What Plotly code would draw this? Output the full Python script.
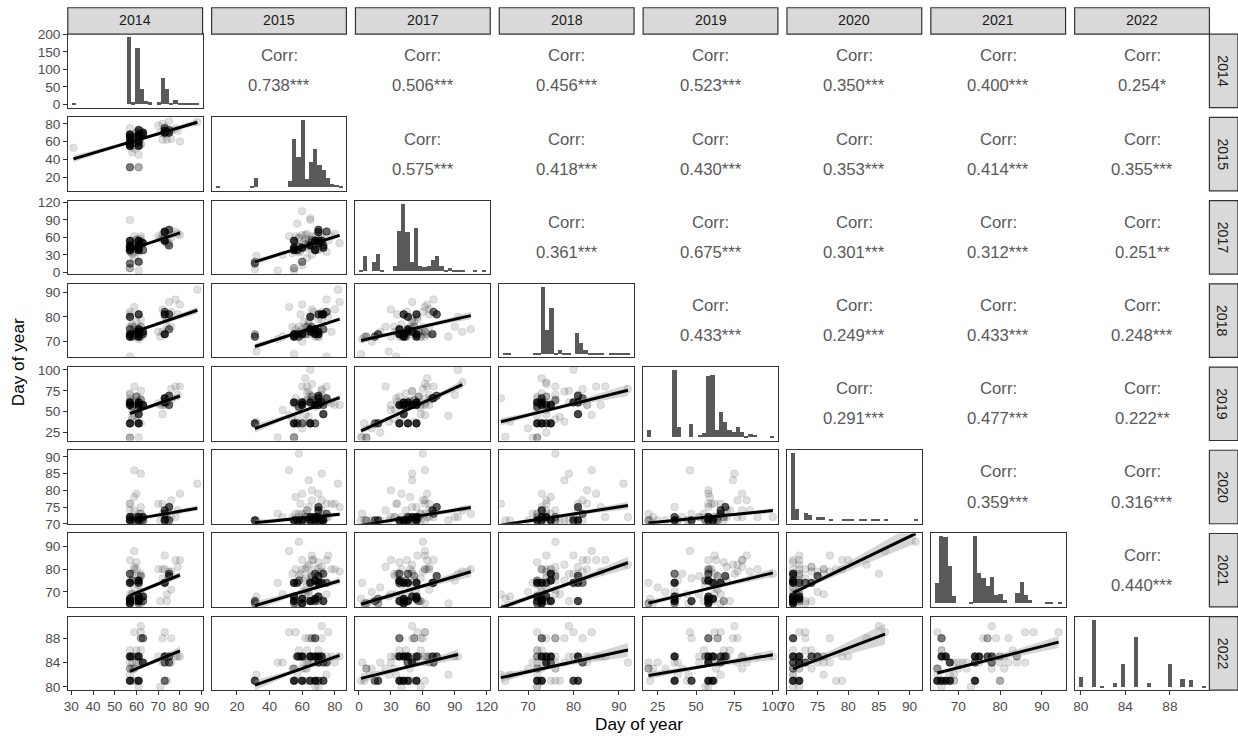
import numpy as np
import plotly.graph_objects as go

years = ["2014", "2015", "2017", "2018", "2019", "2020", "2021", "2022"]

# Day of year per site profile (None = not recorded that year)
doy_2014 = [57, 57, 61, 61, 57, 61, 57, 61, 57, 61,
            63, 57, 61, 57, 61, 73, 73, 75, 73, 75,
            73, 57, 61, 63, 57, 58, 60, 57, 59, 62,
            57, 61, 59, 62, 57, 70, 72, 74, 76, 78,
            80, 71, 73, 75, 79, 31, 88, None, None, None,
            None, None, None, None, None, None, None, 60, 62, 58,
            None, None, 59, 61, 58, 62, 60, 57, 73, 74,
            72, 58, 61, 57, 62, 59, 60, 76, None, None,
            None, None, None]
doy_2015 = [55, 60, 60, 65, 55, 68, 68, 55, 65, 73,
            70, 31, 31, 55, 60, 72, 70, 70, 75, 73,
            70, 68, 65, 68, 57, 48, 70, 65, 52, 72,
            75, 45, 63, 58, 67, 78, 80, 62, 72, 75,
            60, 70, 76, 83, 72, 53, 82, 31, 32, 58,
            60, 65, 55, 60, 66, 64, None, 66, 66, 58,
            None, None, 62, 58, 64, 56, 61, 63, 68, 70,
            62, 54, 68, 59, 64, 56, 70, 63, 57, 66,
            None, 62, None]
doy_2017 = [38, 42, 42, 46, 42, 38, 54, 54, 46, 42,
            50, 15, 18, 7, 18, 54, 69, 73, 70, 46,
            54, 38, 46, 38, 38, 30, 40, 90, 62, 50,
            35, 3, 25, 58, 45, 62, 66, 48, 60, 70,
            64, 58, 55, 50, 66, None, None, 5, 28, 60,
            105, 93, 2, 12, 62, 50, None, 56, 52, 44,
            None, 97, 48, 34, 40, 62, 52, 44, 62, 55,
            58, 33, 40, 36, 54, 48, 38, 66, 84, 30,
            20, 64, None]
doy_2018 = [73, 73, 73, 75, 72, 75, 73, 72, 80, 81,
            74, 72, 73, 72, 73, 81, 73, 81, 82, 75,
            73, 75, 74, 73, 73, 72, 73, 76, 84, 79,
            64, 71, 76, 72, 82, 74, 83, 76, 82, 87,
            85, 72, 80, 86, 81, None, 91, 72, 66, 76,
            75, 80, 65, 70, 74, 78, None, 74, 76, 72,
            None, 74, 73, 74, 77, 72, 78, 73, 73, 79,
            74, 76, 72, 81, 73, 75, 72, 76, 72, 83,
            74, 73, 92]
doy_2019 = [36, 58, 61, 36, 61, 58, 58, 36, 61, 47,
            58, 36, 36, 19, 36, 61, 66, 69, 66, 58,
            61, 36, 36, 58, 36, 52, 58, 70, 46, 75,
            66, 19, 80, 55, 63, 60, 58, 62, 77, 80,
            80, 58, 62, 58, 70, None, None, 36, 38, None,
            None, 100, 20, 30, 83, 74, 22, 68, 64, 56,
            None, 85, 63, 52, 44, 66, 38, 72, 58, 61,
            47, 41, 56, 62, 36, 59, 68, 64, 45, 58,
            25, 90, 77]
doy_2020 = [71, 71, 71, 71, 71, 71, 72, 71, 71, 71,
            72, 71, 71, 71, 71, 71, 74, 75, 73, 71,
            71, 71, 72, 71, 71, 72, 79, 72, 86, 85,
            76, 73, 74, 73, 71, 76, 76, 72, 77, 72,
            79, 71, 72, 75, 74, None, 82, 71, 71, 91,
            73, 72, 71, 71, 77, 83, 72, 72, 71, 71,
            None, 74, 71, 72, 71, 73, 71, 74, 71, 71,
            73, 72, 72, 76, 75, 78, 71, 72, 71, 80,
            71, 72, 72]
doy_2021 = [66, 65, 67, 66, 74, 75, 67, 68, 74, 66,
            68, 66, 65, 65, 67, 74, 74, 77, 74, 78,
            74, 78, 74, 66, 74, 69, 80, 75, 88, 78,
            69, 74, 81, 66, 84, 80, 80, 69, 79, 84,
            84, 66, 86, 79, 81, None, None, 65, 68, 92,
            80, 78, 67, 70, 86, 82, 65, 66, 77, 75,
            94, 79, 72, 77, 69, 65, 75, 66, 80, 66,
            76, 78, 73, 78, 70, 80, 83, 71, 65, 84,
            72, 80, 82]
doy_2022 = [81, 81, 85, 85, 81, 85, 81, 81, 81, 81,
            84, 81, 81, 83, 81, 85, 85, 85, 84, 84,
            81, 85, 85, 88, 85, 84, 81, 85, 89, 90,
            82, 84, 83, 86, 84, 85, 84, 81, 88, 85,
            85, 80, 89, 85, 85, None, None, 81, 82, None,
            None, 85, 81, 83, 84, 88, 83, 85, 88, 85,
            89, None, 83, 85, 81, 89, 84, 86, 81, 85,
            88, 83, 80, 85, 84, 81, 86, 84, 82, 85,
            84, 85, 84]
# number of sites sharing each profile
profile_sites = [30, 25, 25, 20, 15, 15, 15, 12, 10, 10,
                 10, 6, 3, 3, 5, 10, 8, 8, 6, 6,
                 5, 6, 8, 6, 8, 1, 1, 1, 1, 1,
                 1, 1, 1, 1, 1, 1, 1, 1, 1, 1,
                 1, 1, 1, 1, 1, 1, 1, 1, 1, 1,
                 1, 1, 1, 1, 1, 1, 1, 3, 3, 4,
                 1, 1, 1, 1, 1, 1, 1, 1, 1, 1,
                 1, 1, 1, 1, 1, 1, 1, 1, 1, 1,
                 1, 1, 1]

# Histogram counts, 30 bins whose first/last centres sit on the observed extremes
hist_2014 = [2, 0, 0, 0, 0, 0, 0, 0, 0, 0, 0, 0, 0, 191, 5, 161, 42, 8, 5, 0,
             5, 75, 44, 4, 11, 2, 2, 1, 1, 1]
hist_2015 = [1, 0, 0, 0, 0, 0, 0, 0, 2, 12, 0, 0, 0, 0, 0, 0, 0, 8, 61, 38,
             85, 10, 32, 48, 28, 22, 11, 4, 3, 1]
hist_2017 = [2, 22, 0, 13, 26, 2, 0, 0, 7, 60, 100, 58, 13, 65, 7, 6, 7, 16, 23, 7,
             2, 5, 2, 1, 1, 0, 0, 1, 0, 1]
hist_2018 = [1, 1, 0, 0, 0, 0, 0, 1, 1, 91, 33, 63, 2, 5, 1, 1, 0, 29, 15, 5,
             1, 1, 1, 1, 0, 1, 1, 1, 1, 1]
hist_2019 = [10, 0, 0, 0, 0, 0, 100, 15, 0, 0, 20, 0, 3, 6, 92, 93, 10, 38, 23, 10,
             8, 15, 8, 2, 5, 3, 0, 0, 0, 2]
hist_2020 = [100, 16, 0, 10, 8, 0, 5, 5, 0, 1, 0, 0, 1, 1, 1, 0, 1, 1, 0, 1,
             1, 0, 1, 0, 0, 0, 0, 0, 0, 1]
hist_2021 = [30, 100, 99, 56, 10, 0, 0, 0, 1, 100, 45, 37, 25, 39, 12, 13, 5, 0, 0, 15,
             31, 12, 5, 0, 0, 0, 2, 1, 0, 1]
hist_2022 = [15, 0, 0, 100, 0, 2, 0, 0, 6, 0, 34, 0, 0, 75, 0, 0, 6, 0, 0, 0,
             0, 34, 0, 0, 12, 0, 11, 0, 0, 2]
bin_first = [31.2, 8.2, 2.5, 65.0, 19.5, 71.0, 64.9, 80.0]
bin_last = [87.6, 83.4, 117.5, 92.0, 99.3, 91.0, 94.2, 91.0]

# Pairwise correlations (upper triangle, row by row)
corr_r = [0.738, 0.506, 0.456, 0.523, 0.350, 0.400, 0.254,
          0.575, 0.418, 0.430, 0.353, 0.414, 0.355,
          0.361, 0.675, 0.301, 0.312, 0.251,
          0.433, 0.249, 0.433, 0.248,
          0.291, 0.477, 0.222,
          0.359, 0.316,
          0.440]
corr_sig = ["***", "***", "***", "***", "***", "***", "*",
            "***", "***", "***", "***", "***", "***",
            "***", "***", "***", "***", "**",
            "***", "***", "***", "***",
            "***", "***", "**",
            "***", "***",
            "***"]

year_ticks = [[30, 40, 50, 60, 70, 80, 90], [20, 40, 60, 80], [0, 30, 60, 90, 120],
              [70, 80, 90], [25, 50, 75, 100], [70, 75, 80, 85, 90], [70, 80, 90],
              [80, 84, 88]]
count_ticks = [0, 50, 100, 150, 200]

# ---------------------------------------------------------------------------
# Layout positions are given in screen pixels of the finished page; the figure
# is drawn inside the page body (8px margin) and the page is shown slightly
# reduced, so screen pixels are mapped back into figure coordinates here.
W, H = 1238, 740
BODY_MARGIN = 8
KX, KY = W / (W + 2 * BODY_MARGIN), H / (H + 2 * BODY_MARGIN)
NV = len(years)
LEFT0, COL_PITCH, PANEL_W = 67.7, 143.86, 134.8
TOP0, ROW_PITCH, PANEL_H = 35.0, 83.14, 73.4
STRIP_TOP = 8.6
STRIP_RIGHT = 1238.0


def fx(px):
    return (px / KX - BODY_MARGIN) / W


def fy(py):
    return 1 - (py / KY - BODY_MARGIN) / H


def fs(size):
    return size / KX


FONT = "Liberation Sans, Arial, Helvetica, sans-serif"
TICK_FONT = dict(family=FONT, size=fs(13.5), color="#4D4D4D")
BORDER = "#333333"
ALPHA = 0.12
MAX_OPACITY = 0.82

doy = [doy_2014, doy_2015, doy_2017, doy_2018, doy_2019, doy_2020, doy_2021, doy_2022]
hists = [hist_2014, hist_2015, hist_2017, hist_2018, hist_2019, hist_2020, hist_2021, hist_2022]
vals = [np.array([np.nan if v is None else v for v in col], dtype=float) for col in doy]
wts = np.array(profile_sites, dtype=float)


def var_range(k):
    lo, hi = bin_first[k], bin_last[k]
    pad = 0.05 * (hi - lo)
    return [lo - pad, hi + pad]


def linear_fit(x, y, w):
    n = w.sum()
    xm = (w * x).sum() / n
    ym = (w * y).sum() / n
    sxx = (w * (x - xm) ** 2).sum()
    b = (w * (x - xm) * (y - ym)).sum() / sxx
    a = ym - b * xm
    s2 = (w * (y - a - b * x) ** 2).sum() / (n - 2)
    xs = np.linspace(x.min(), x.max(), 80)
    yh = a + b * xs
    se = np.sqrt(s2 * (1.0 / n + (xs - xm) ** 2 / sxx))
    t = 1.96 + 2.37 / (n - 2)
    return xs, yh, yh - t * se, yh + t * se


fig = go.Figure()
layout = {}
annotations = []
shapes = []
corr_idx = 0

for i in range(NV):
    for j in range(NV):
        p = i * NV + j + 1
        sfx = "" if p == 1 else str(p)
        xname, yname = "xaxis" + sfx, "yaxis" + sfx
        xref, yref = "x" + sfx, "y" + sfx
        x0 = LEFT0 + j * COL_PITCH
        x1 = x0 + PANEL_W
        y0 = TOP0 + i * ROW_PITCH
        y1 = y0 + PANEL_H
        xax = dict(domain=[fx(x0), fx(x1)], anchor=yref, showgrid=False, zeroline=False,
                   showline=True, mirror=True, linecolor=BORDER, linewidth=1.2,
                   ticks="", showticklabels=False, fixedrange=True)
        yax = dict(domain=[fy(y1), fy(y0)], anchor=xref, showgrid=False, zeroline=False,
                   showline=True, mirror=True, linecolor=BORDER, linewidth=1.2,
                   ticks="", showticklabels=False, fixedrange=True)

        if i == j:
            counts = np.array(hists[j], dtype=float)
            centres = np.linspace(bin_first[j], bin_last[j], len(counts))
            bw = (bin_last[j] - bin_first[j]) / (len(counts) - 1)
            fig.add_trace(go.Bar(x=centres, y=counts, width=bw, xaxis=xref, yaxis=yref,
                                 marker=dict(color="#595959", line=dict(width=0)),
                                 hoverinfo="skip"))
            xax["range"] = var_range(j)
            m = counts.max()
            yax["range"] = [-0.05 * m, 1.05 * m]
            if i == 0:
                yax.update(showticklabels=True, ticks="outside", ticklen=3.5, tickwidth=1,
                           tickcolor=BORDER, tickvals=count_ticks, tickfont=TICK_FONT)
        elif i > j:
            x = vals[j]
            y = vals[i]
            ok = ~np.isnan(x) & ~np.isnan(y)
            xv, yv, wv = x[ok], y[ok], wts[ok]
            xs, yh, lo, hi = linear_fit(xv, yv, wv)
            # merge identical pairs so overlapping sites darken the marker
            pts = {}
            for a, b, c in zip(xv, yv, wv):
                pts[(a, b)] = pts.get((a, b), 0) + c
            px = [k[0] for k in pts]
            py = [k[1] for k in pts]
            op = [min(MAX_OPACITY, 1 - (1 - ALPHA) ** c) for c in pts.values()]
            cols = [f"rgba(0,0,0,{o:.3f})" for o in op]
            fig.add_trace(go.Scatter(x=px, y=py, mode="markers", xaxis=xref, yaxis=yref,
                                     marker=dict(size=7.6, color=cols,
                                                 line=dict(width=0.8, color=cols)),
                                     hoverinfo="skip"))
            fig.add_trace(go.Scatter(x=np.concatenate([xs, xs[::-1]]),
                                     y=np.concatenate([hi, lo[::-1]]),
                                     mode="lines", fill="toself",
                                     fillcolor="rgba(153,153,153,0.4)",
                                     line=dict(width=0), xaxis=xref, yaxis=yref,
                                     hoverinfo="skip"))
            fig.add_trace(go.Scatter(x=xs, y=yh, mode="lines", xaxis=xref, yaxis=yref,
                                     line=dict(color="black", width=3), hoverinfo="skip"))
            xax["range"] = var_range(j)
            yax["range"] = var_range(i)
            if j == 0:
                yax.update(showticklabels=True, ticks="outside", ticklen=3.5, tickwidth=1,
                           tickcolor=BORDER, tickvals=year_ticks[i], tickfont=TICK_FONT)
        else:
            xax["range"] = [0, 1]
            yax["range"] = [0, 1]
            cx = fx((x0 + x1) / 2)
            cy = (y0 + y1) / 2
            annotations.append(dict(x=cx, y=fy(cy - 15), xref="paper", yref="paper",
                                    text="Corr:", showarrow=False, xanchor="center",
                                    yanchor="middle",
                                    font=dict(family=FONT, size=fs(16.5), color="#595959")))
            annotations.append(dict(x=cx, y=fy(cy + 15), xref="paper", yref="paper",
                                    text=f"{corr_r[corr_idx]:.3f}{corr_sig[corr_idx]}",
                                    showarrow=False, xanchor="center", yanchor="middle",
                                    font=dict(family=FONT, size=fs(16.5), color="#595959")))
            corr_idx += 1

        if i == NV - 1:
            xax.update(showticklabels=True, ticks="outside", ticklen=3.5, tickwidth=1,
                       tickcolor=BORDER, tickvals=year_ticks[j], tickfont=TICK_FONT)
        layout[xname] = xax
        layout[yname] = yax

# facet strips: column labels on top, row labels on the right
for j in range(NV):
    x0 = LEFT0 + j * COL_PITCH
    x1 = x0 + PANEL_W
    shapes.append(dict(type="rect", xref="paper", yref="paper", x0=fx(x0), x1=fx(x1),
                       y0=fy(TOP0), y1=fy(STRIP_TOP), fillcolor="#D9D9D9",
                       line=dict(color=BORDER, width=1.2), layer="above"))
    annotations.append(dict(x=fx((x0 + x1) / 2), y=fy((5.7 + TOP0) / 2),
                            xref="paper", yref="paper", text=years[j], showarrow=False,
                            xanchor="center", yanchor="middle",
                            font=dict(family=FONT, size=fs(14), color="#1A1A1A")))
for i in range(NV):
    y0 = TOP0 + i * ROW_PITCH
    y1 = y0 + PANEL_H
    xl = LEFT0 + (NV - 1) * COL_PITCH + PANEL_W
    shapes.append(dict(type="rect", xref="paper", yref="paper", x0=fx(xl),
                       x1=fx(STRIP_RIGHT), y0=fy(y1), y1=fy(y0),
                       fillcolor="#D9D9D9", line=dict(color=BORDER, width=1.2), layer="above"))
    annotations.append(dict(x=fx((xl + 1236) / 2), y=fy((y0 + y1) / 2),
                            xref="paper", yref="paper", text=years[i], showarrow=False,
                            textangle=90, xanchor="center", yanchor="middle",
                            font=dict(family=FONT, size=fs(14), color="#1A1A1A")))

panel_left = LEFT0
panel_right = LEFT0 + (NV - 1) * COL_PITCH + PANEL_W
panel_bottom = TOP0 + (NV - 1) * ROW_PITCH + PANEL_H
annotations.append(dict(x=fx((panel_left + panel_right) / 2), y=fy(724), xref="paper",
                        yref="paper", text="Day of year", showarrow=False,
                        xanchor="center", yanchor="middle",
                        font=dict(family=FONT, size=fs(17), color="black")))
annotations.append(dict(x=fx(18), y=fy((TOP0 + panel_bottom) / 2), xref="paper",
                        yref="paper", text="Day of year", showarrow=False, textangle=-90,
                        xanchor="center", yanchor="middle",
                        font=dict(family=FONT, size=fs(17), color="black")))

fig.update_layout(width=W, height=H, margin=dict(l=0, r=0, t=0, b=0),
                  paper_bgcolor="white", plot_bgcolor="white", showlegend=False,
                  bargap=0, annotations=annotations, shapes=shapes, **layout)

fig.write_html("out.html")
